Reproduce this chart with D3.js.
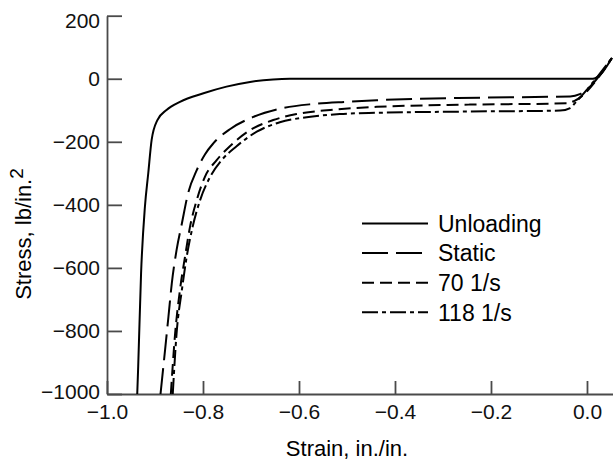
<!DOCTYPE html>
<html>
<head>
<meta charset="utf-8">
<script src="https://cdn.jsdelivr.net/npm/d3@7"></script>
<style>
  body { margin: 0; background: #fff; }
  svg { display: block; font-family: "Liberation Sans", Arial, sans-serif; }
  .axis path, .axis line { stroke: #4a4a4a; stroke-width: 1.8; }
  .axis text { font-size: 21px; fill: #111; }
</style>
</head>
<body>
<div id="chart"></div>
<script>
// strain (in./in.), stress (lb/in.^2)
const unloading = [
  [-0.937, -1000], [-0.935, -913], [-0.929, -616], [-0.921, -406], [-0.914, -299],
  [-0.907, -194], [-0.895, -131], [-0.876, -99], [-0.848, -73], [-0.799, -46],
  [-0.751, -25], [-0.702, -10], [-0.654, -2], [-0.619, 0], [0.0125, 0], [0.052, 66]
];
const staticLoad = [
  [-0.8885, -1000], [-0.879, -860], [-0.872, -755], [-0.865, -649], [-0.855, -543],
  [-0.844, -459], [-0.831, -363], [-0.813, -290], [-0.796, -240], [-0.7785, -205],
  [-0.744, -160], [-0.695, -121], [-0.640, -95], [-0.570, -80], [-0.501, -73],
  [-0.438, -68], [-0.223, -60], [-0.035, -56], [-0.015, -49], [0.052, 66]
];
const rate70 = [
  [-0.867, -1000], [-0.858, -807], [-0.848, -670], [-0.8375, -565], [-0.827, -469],
  [-0.813, -385], [-0.796, -311], [-0.7715, -258], [-0.744, -214], [-0.702, -163],
  [-0.6535, -131], [-0.605, -112], [-0.535, -99], [-0.438, -89], [-0.244, -82],
  [-0.042, -78], [-0.027, -71], [0.052, 66]
];
const rate118 = [
  [-0.863, -1000], [-0.855, -807], [-0.844, -670], [-0.834, -565], [-0.8215, -469],
  [-0.806, -385], [-0.785, -311], [-0.761, -258], [-0.730, -214], [-0.688, -168],
  [-0.640, -138], [-0.584, -122], [-0.515, -112], [-0.438, -108], [-0.244, -104],
  [-0.056, -101], [-0.035, -93], [-0.023, -74], [0.052, 66]
];

const seriesNames = ["Unloading", "Static", "70 1/s", "118 1/s"];
const xTicks = [-1.0, -0.8, -0.6, -0.4, -0.2, 0.0];
const yTicks = [200, 0, -200, -400, -600, -800, -1000];

const width = 613;
const height = 464;
const dashes = [null, "26,8", "12,6", "16,4,4,4"];

const svg = d3.select("#chart")
  .append("svg")
  .attr("width", width)
  .attr("height", height);

const x = d3.scaleLinear().domain([-1, 0.0542]).range([107, 613]);
const y = d3.scaleLinear().domain([-1000, 200]).range([394, 15.7]);

// axes, ticks point inward
svg.append("g")
  .attr("class", "axis")
  .attr("transform", "translate(0,394)")
  .call(d3.axisBottom(x)
    .tickValues(xTicks)
    .tickFormat(d3.format(".1f"))
    .tickSizeInner(-13)
    .tickSizeOuter(0)
    .tickPadding(10));

const yAxis = svg.append("g")
  .attr("class", "axis")
  .attr("transform", "translate(107,0)")
  .call(d3.axisLeft(y)
    .tickValues(yTicks)
    .tickFormat(d3.format("d"))
    .tickSizeInner(-15)
    .tickSizeOuter(0)
    .tickPadding(7));

// top label sits a bit low, bottom one a bit high, as in the figure
yAxis.selectAll(".tick text")
  .filter((d) => d === 200)
  .attr("dy", "0.56em");
yAxis.selectAll(".tick text")
  .filter((d) => d === -1000)
  .attr("dy", "0.2em");

// axis titles
svg.append("text")
  .attr("x", 347)
  .attr("y", 456)
  .attr("text-anchor", "middle")
  .style("font-size", "22px")
  .text("Strain, in./in.");

const yLabel = svg.append("text")
  .attr("transform", "translate(31,234) rotate(-90)")
  .attr("text-anchor", "middle")
  .style("font-size", "22px");
yLabel.append("tspan").text("Stress, lb/in.");
yLabel.append("tspan").attr("dy", "-0.42em").style("font-size", "19px").text("2");

// curves
const line = d3.line()
  .x((d) => x(d[0]))
  .y((d) => y(d[1]))
  .curve(d3.curveMonotoneX);

[unloading, staticLoad, rate70, rate118].forEach((data, i) => {
  svg.append("path")
    .datum(data)
    .attr("fill", "none")
    .attr("stroke", "#000")
    .attr("stroke-width", 2)
    .attr("stroke-dasharray", dashes[i])
    .attr("d", line);
});

// legend
const legend = svg.append("g")
  .selectAll("g")
  .data(seriesNames)
  .enter()
  .append("g")
  .attr("transform", (d, i) => `translate(0, ${223.5 + i * 29.6})`);

legend.append("line")
  .attr("x1", 362)
  .attr("x2", 428)
  .attr("stroke", "#000")
  .attr("stroke-width", 2)
  .attr("stroke-dasharray", (d, i) => dashes[i]);

legend.append("text")
  .attr("x", 438)
  .attr("dy", "0.36em")
  .style("font-size", "23px")
  .text((d) => d);
</script>
</body>
</html>
